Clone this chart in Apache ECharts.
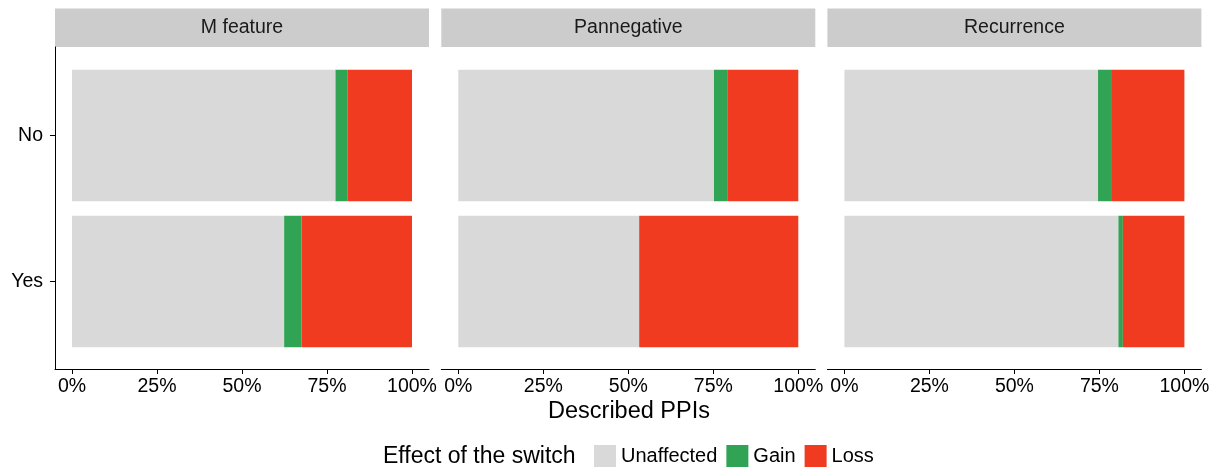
<!DOCTYPE html>
<html>
<head>
<meta charset="utf-8">
<script src="https://cdn.jsdelivr.net/npm/echarts@6/dist/echarts.min.js"></script>
<style>
  html, body { margin: 0; padding: 0; background: #fff; }
  #chart { width: 1223px; height: 470px; }
</style>
</head>
<body>
<div id="chart"></div>
<script>
const panels = ['M feature', 'Pannegative', 'Recurrence']
const groups = ['No', 'Yes']
const effects = ['Unaffected', 'Gain', 'Loss']
// percent of described PPIs, per panel: [No, Yes]
const unaffected = [[77.5, 62.4], [75.2, 53.2], [74.6, 80.6]]
const gain = [[3.6, 5.1], [3.9, 0], [4.1, 1.3]]
const loss = [[18.9, 32.5], [20.9, 46.8], [21.3, 18.1]]
const tickValues = [0, 25, 50, 75, 100]

const colors = { Unaffected: '#D9D9D9', Gain: '#31A354', Loss: '#F03B20' }
const font = 'Liberation Sans, Arial, sans-serif'
const panelLeft = [55, 441.3, 827.4]
const panelWidth = 374
const plotTop = 47
const plotBottom = 369

const chart = echarts.init(document.getElementById('chart'))

const grids = []
const xAxes = []
const yAxes = []
const series = []
const graphics = []

panels.forEach((name, i) => {
  // outer grid: axis lines + x ticks
  grids.push({ left: panelLeft[i], top: plotTop, width: panelWidth, height: plotBottom - plotTop })
  // inner grid: bars (ggplot discrete expansion)
  grids.push({ left: panelLeft[i], top: 62.5, width: panelWidth, height: 292 })

  xAxes.push({
    gridIndex: i * 2,
    type: 'value',
    min: -5,
    max: 105,
    axisLine: { show: true, onZero: false, lineStyle: { color: '#000', width: 1 } },
    axisTick: { show: true, customValues: tickValues, length: 5, lineStyle: { color: '#000' } },
    axisLabel: {
      customValues: tickValues,
      formatter: '{value}%',
      color: '#000',
      fontSize: 19.5,
      fontFamily: font,
      margin: 8
    },
    splitLine: { show: false }
  })
  xAxes.push({
    gridIndex: i * 2 + 1,
    type: 'value',
    min: -5,
    max: 105,
    show: false
  })

  yAxes.push({
    gridIndex: i * 2,
    type: 'value',
    show: i === 0,
    axisLine: { show: true, onZero: false, lineStyle: { color: '#000', width: 1 } },
    axisTick: { show: false },
    axisLabel: { show: false },
    splitLine: { show: false }
  })
  yAxes.push({
    gridIndex: i * 2 + 1,
    type: 'category',
    data: groups,
    inverse: true,
    axisLine: { show: false, onZero: false },
    axisTick: { show: i === 0, alignWithLabel: true, length: 5, lineStyle: { color: '#000' } },
    axisLabel: { show: i === 0, color: '#000', fontSize: 19.5, fontFamily: font, margin: 12 },
    splitLine: { show: false }
  })

  const values = { Unaffected: unaffected[i], Gain: gain[i], Loss: loss[i] }
  effects.forEach((eff) => {
    series.push({
      name: eff,
      type: 'bar',
      xAxisIndex: i * 2 + 1,
      yAxisIndex: i * 2 + 1,
      stack: 'panel' + i,
      barCategoryGap: '10%',
      itemStyle: { color: colors[eff] },
      data: values[eff]
    })
  })

  // facet strip
  graphics.push({
    type: 'rect',
    shape: { x: panelLeft[i], y: 8.5, width: panelWidth, height: 38.5 },
    style: { fill: '#CCCCCC' }
  })
  graphics.push({
    type: 'text',
    x: panelLeft[i] + panelWidth / 2,
    y: 28,
    style: {
      text: name,
      fill: '#1a1a1a',
      font: '19.5px ' + font,
      textAlign: 'center',
      textVerticalAlign: 'middle'
    }
  })
})

graphics.push({
  type: 'text',
  x: 629,
  y: 412,
  style: {
    text: 'Described PPIs',
    fill: '#000',
    font: '23.5px ' + font,
    textAlign: 'center',
    textVerticalAlign: 'middle'
  }
})

chart.setOption({
  animation: false,
  title: {
    text: 'Effect of the switch',
    left: 383,
    top: 445,
    padding: 0,
    textStyle: { fontSize: 23, fontWeight: 'normal', color: '#000', fontFamily: font }
  },
  legend: {
    data: effects,
    left: 594,
    top: 445,
    padding: 0,
    itemWidth: 22,
    itemHeight: 22,
    itemGap: 9,
    icon: 'rect',
    textStyle: { fontSize: 20, color: '#000', fontFamily: font }
  },
  grid: grids,
  xAxis: xAxes,
  yAxis: yAxes,
  series: series,
  graphic: graphics
})

window.addEventListener('resize', () => {
  chart.resize()
})
</script>
</body>
</html>
